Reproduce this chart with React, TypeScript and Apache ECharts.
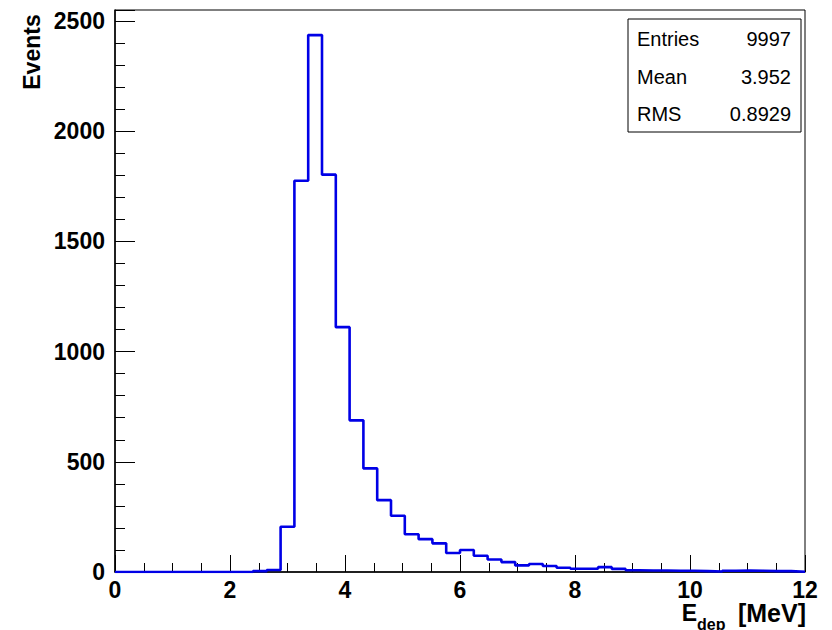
import React, { useEffect, useRef } from "react";
import * as echarts from "echarts";

// Histogram definition: 50 bins from 0 to 12 MeV
const xMin = 0;
const xMax = 12;
const binWidth = 0.24;
const counts: number[] = [
  0, 0, 0, 0, 0, 0, 0, 0, 0, 0,
  4, 9, 205, 1775, 2436, 1803, 1111, 688, 470, 326,
  255, 171, 149, 130, 86, 100, 74, 57, 45, 30,
  36, 27, 19, 15, 15, 22, 14, 8, 7, 7,
  6, 6, 4, 2, 6, 7, 6, 4, 4, 1,
];
const yMax = 2550;
const xTickInterval = 2;
const yTickInterval = 500;
const statsLabels = ["Entries", "Mean", "RMS"];
const statsValues = ["9997", "3.952", "0.8929"];

const FONT = "'Liberation Sans', Arial, Helvetica, sans-serif";

export default function App() {
  const ref = useRef<HTMLDivElement>(null);
  useEffect(() => {
    if (!ref.current) return;
    const chart = echarts.init(ref.current, null, { renderer: "svg" });
    const stepData: [number, number][] = counts.map((c, i) => [xMin + i * binWidth, c]);
    stepData.push([xMax, counts[counts.length - 1]]);

    const left = 115, right = 805, top = 10, bottom = 572;
    const boxL = 628, boxR = 801, boxT = 19, boxB = 132;
    const rowY = [39, 77, 114];

    const statsGraphics: any[] = [
      {
        type: "rect",
        shape: { x: boxL, y: boxT, width: boxR - boxL, height: boxB - boxT },
        style: { fill: "#ffffff", stroke: "#000000", lineWidth: 1 },
        z: 100,
      },
    ];
    statsLabels.forEach((lab, i) => {
      statsGraphics.push({
        type: "text",
        x: 637,
        y: rowY[i],
        style: { text: lab, font: `20px ${FONT}`, fill: "#000", textAlign: "left", textVerticalAlign: "middle" },
        z: 101,
      });
      statsGraphics.push({
        type: "text",
        x: 791,
        y: rowY[i],
        style: { text: statsValues[i], font: `20px ${FONT}`, fill: "#000", textAlign: "right", textVerticalAlign: "middle" },
        z: 101,
      });
    });

    chart.setOption({
      animation: false,
      backgroundColor: "#ffffff",
      grid: {
        left: left,
        right: 832 - right,
        top: top,
        bottom: 630 - bottom,
        show: true,
        borderColor: "#000000",
        borderWidth: 1,
        backgroundColor: "#ffffff",
      },
      xAxis: {
        type: "value",
        min: xMin,
        max: xMax,
        interval: xTickInterval,
        axisLine: { show: true, onZero: false, lineStyle: { color: "#000", width: 1.5 } },
        axisTick: { show: true, inside: true, length: 17, lineStyle: { color: "#000", width: 1 } },
        minorTick: { show: true, splitNumber: 4, length: 9, lineStyle: { color: "#000", width: 1 } },
        splitLine: { show: false },
        axisLabel: {
          show: true,
          margin: 9,
          lineHeight: 18,
          color: "#000",
          fontFamily: FONT,
          fontWeight: "bold",
          fontSize: 23,
          formatter: (v: number) => String(v),
        },
      },
      yAxis: {
        type: "value",
        min: 0,
        max: yMax,
        interval: yTickInterval,
        axisLine: { show: true, lineStyle: { color: "#000", width: 1.5 } },
        axisTick: { show: true, inside: true, length: 20, lineStyle: { color: "#000", width: 1 } },
        minorTick: { show: true, splitNumber: 5, length: 10, lineStyle: { color: "#000", width: 1 } },
        splitLine: { show: false },
        axisLabel: {
          show: true,
          margin: 10,
          showMaxLabel: false,
          color: "#000",
          fontFamily: FONT,
          fontWeight: "bold",
          fontSize: 23,
          verticalAlign: "middle",
          formatter: (v: number) => String(v),
        },
      },
      series: [
        {
          type: "line",
          step: "end",
          data: stepData,
          showSymbol: false,
          symbol: "none",
          lineStyle: { color: "#0000e6", width: 2.6 },
          z: 5,
        },
      ],
      graphic: [
        {
          type: "text",
          x: 32,
          y: 52,
          rotation: Math.PI / 2,
          style: {
            text: "Events",
            font: `bold 23px ${FONT}`,
            fill: "#000",
            textAlign: "center",
            textVerticalAlign: "middle",
          },
        },
        {
          type: "text",
          x: 697,
          y: 613,
          style: { text: "E", font: `bold 23px ${FONT}`, fill: "#000", textAlign: "right", textVerticalAlign: "middle" },
        },
        {
          type: "text",
          x: 697,
          y: 624,
          style: { text: "dep", font: `bold 16px ${FONT}`, fill: "#000", textAlign: "left", textVerticalAlign: "middle" },
        },
        {
          type: "text",
          x: 806,
          y: 613,
          style: { text: "[MeV]", font: `bold 25px ${FONT}`, fill: "#000", textAlign: "right", textVerticalAlign: "middle" },
        },
        ...statsGraphics,
      ],
    });
    return () => chart.dispose();
  }, []);
  return (
    <div
      ref={ref}
      style={{ position: "fixed", left: 0, top: 0, width: 832, height: 630, background: "#fff" }}
    />
  );
}
